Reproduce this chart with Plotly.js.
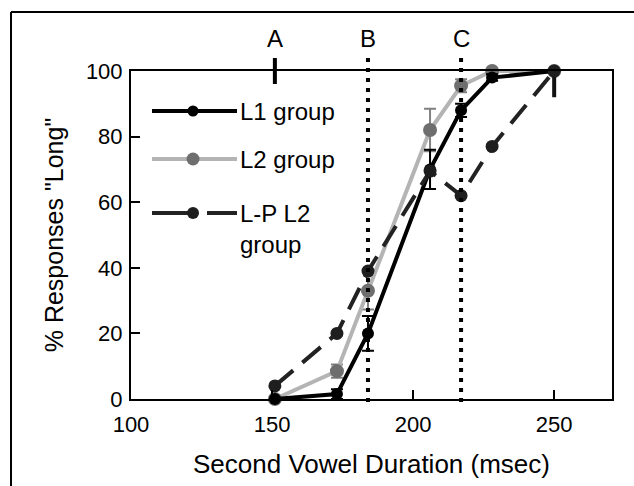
<!DOCTYPE html>
<html>
<head>
<meta charset="utf-8">
<script src="https://cdn.plot.ly/plotly-3.0.1.min.js"></script>
<style>html,body{margin:0;padding:0;background:#fff;}#chart{width:634px;height:486px;}</style>
</head>
<body>
<div id="chart"></div>
<script>
// ---- data ----
const durations = [151, 173, 184, 206, 217, 228, 250];
const l1Values = [0, 1.5, 20, 70, 88, 98, 100];
const l1Err = [0, 1.5, 5.3, 6, 2, 1, 0];
const l2Values = [0, 8.5, 33, 82, 95.5, 100, 100];
const l2Err = [0, 2, 5.7, 6.5, 2, 0.5, 0];
const lpValues = [4, 20, 39, 69.5, 62, 77, 100];
const lpErrMinus = [0, 0, 0, 0, 0, 0, 8];
const seriesNames = ['L1 group', 'L2 group', 'L-P L2<br>group'];
const boundaryX = [151, 184, 217];
const boundaryLabels = ['A', 'B', 'C'];
const xTicks = [100, 150, 200, 250];
const yTicks = [0, 20, 40, 60, 80, 100];

const FONT = '"Liberation Sans", Arial, sans-serif';
const L = 131, R = 612, T = 71, B = 399;
const px = v => (v - L) / (R - L);
const py = v => (B - v) / (B - T);

const traces = [
  {
    x: durations, y: l2Values, name: seriesNames[1], mode: 'lines+markers',
    line: {color: '#b4b4b4', width: 4},
    marker: {color: '#6e6e6e', size: 14},
    error_y: {type: 'data', array: l2Err, visible: true, color: '#808080', thickness: 2, width: 6},
    cliponaxis: false, showlegend: false
  },
  {
    x: durations, y: l1Values, name: seriesNames[0], mode: 'lines+markers',
    line: {color: '#000', width: 4},
    marker: {color: '#000', size: 12},
    error_y: {type: 'data', array: l1Err, visible: true, color: '#000', thickness: 2, width: 6},
    cliponaxis: false, showlegend: false
  },
  {
    x: durations, y: lpValues, name: seriesNames[2], mode: 'lines+markers',
    line: {color: '#222', width: 4, dash: '24px,12px'},
    marker: {color: '#1e1e1e', size: 13},
    error_y: {type: 'data', symmetric: false, array: lpValues.map(() => 0), arrayminus: lpErrMinus, visible: true, color: '#111', thickness: 4, width: 0},
    cliponaxis: false, showlegend: false
  }
];

const shapes = [
  // outer frame
  {type: 'line', xref: 'paper', yref: 'paper', x0: px(11), x1: px(640), y0: py(12), y1: py(12), line: {color: '#000', width: 2}},
  {type: 'line', xref: 'paper', yref: 'paper', x0: px(11), x1: px(11), y0: py(12), y1: py(492), line: {color: '#000', width: 2}},
];
// boundaries
boundaryX.forEach((bx, i) => {
  if (i === 0) {
    shapes.push({type: 'line', xref: 'x', yref: 'paper', x0: bx, x1: bx, y0: py(84), y1: py(58), line: {color: '#000', width: 4}});
  } else {
    shapes.push({type: 'line', xref: 'x', yref: 'paper', x0: bx, x1: bx, y0: py(402), y1: py(58), line: {color: '#000', width: 4, dash: '4px,6px'}});
  }
});

// legend (drawn)
const legY = [111, 159, 213];
const legStyles = [
  {lc: '#000', mc: '#000', r: 5.5},
  {lc: '#b4b4b4', mc: '#6e6e6e', r: 6.5},
  {lc: '#222', mc: '#1e1e1e', r: 6}
];
legY.forEach((yy, i) => {
  const s = legStyles[i];
  if (i < 2) {
    shapes.push({type: 'line', xref: 'paper', yref: 'paper', x0: px(152), x1: px(237), y0: py(yy), y1: py(yy), line: {color: s.lc, width: 4}});
  } else {
    shapes.push({type: 'line', xref: 'paper', yref: 'paper', x0: px(152), x1: px(193), y0: py(yy), y1: py(yy), line: {color: s.lc, width: 4}});
    shapes.push({type: 'line', xref: 'paper', yref: 'paper', x0: px(207), x1: px(237), y0: py(yy), y1: py(yy), line: {color: s.lc, width: 4}});
  }
  shapes.push({type: 'circle', xref: 'paper', yref: 'paper', x0: px(193 - s.r), x1: px(193 + s.r), y0: py(yy + s.r), y1: py(yy - s.r), fillcolor: s.mc, line: {width: 0}});
});

const annotations = boundaryX.map((bx, i) => ({
  x: bx, xref: 'x', y: py(38), yref: 'paper', text: boundaryLabels[i], showarrow: false,
  font: {family: FONT, size: 24, color: '#000'}, xanchor: 'center', yanchor: 'middle'
}));
legY.forEach((yy, i) => {
  annotations.push({
    x: px(238), xref: 'paper', y: py(yy - 15), yref: 'paper', text: seriesNames[i], showarrow: false,
    font: {family: FONT, size: 24, color: '#000'}, xanchor: 'left', yanchor: 'top', align: 'left'
  });
});

const layout = {
  width: 634, height: 486,
  margin: {l: L, r: 634 - R, t: T, b: 486 - B},
  paper_bgcolor: '#fff', plot_bgcolor: '#fff',
  showlegend: false,
  font: {family: FONT, color: '#000'},
  xaxis: {
    range: [100, 270.5], tickvals: xTicks, ticktext: xTicks.map(String),
    ticks: 'inside', ticklen: 9, tickwidth: 2, tickcolor: '#000',
    showline: true, linecolor: '#000', linewidth: 2, mirror: true,
    showgrid: false, zeroline: false, ticklabelstandoff: 5,
    tickfont: {family: FONT, size: 22, color: '#000'},
    title: {text: 'Second Vowel Duration (msec)', font: {family: FONT, size: 26, color: '#000'}, standoff: 18}
  },
  yaxis: {
    range: [0, 100], tickvals: yTicks, ticktext: yTicks.map(String),
    ticks: 'inside', ticklen: 9, tickwidth: 2, tickcolor: '#000',
    showline: true, linecolor: '#000', linewidth: 2, mirror: true,
    showgrid: false, zeroline: false, ticklabelstandoff: 2,
    tickfont: {family: FONT, size: 22, color: '#000'},
    title: {text: '% Responses "Long"', font: {family: FONT, size: 25, color: '#000'}, standoff: 15}
  },
  shapes: shapes,
  annotations: annotations
};

Plotly.newPlot('chart', traces, layout, {staticPlot: true, displayModeBar: false});
</script>
</body>
</html>
